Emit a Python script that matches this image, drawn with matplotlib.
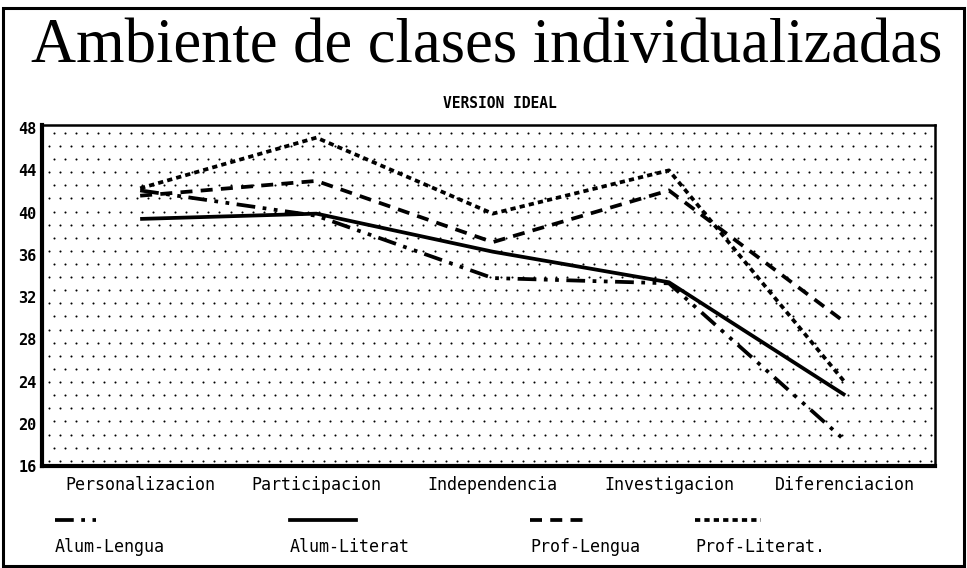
import numpy as np
import matplotlib
matplotlib.use("Agg")
import matplotlib.pyplot as plt
from matplotlib.lines import Line2D
from matplotlib.patches import Rectangle

# datos
categorias = ["Personalizacion", "Participacion", "Independencia", "Investigacion", "Diferenciacion"]
alum_lengua = [42.1, 39.7, 33.8, 33.3, 18.4]
alum_literat = [39.4, 39.9, 36.3, 33.4, 22.7]
prof_lengua = [41.6, 43.0, 37.2, 42.1, 29.6]
prof_literat = [42.3, 47.1, 39.9, 44.0, 23.9]
series = ["Alum-Lengua", "Alum-Literat", "Prof-Lengua", "Prof-Literat."]
yticks = [16, 20, 24, 28, 32, 36, 40, 44, 48]

mono = "DejaVu Sans Mono"
estilos = [
    dict(dashes=(5, 2, 1, 2, 1, 2)),
    dict(linestyle="-"),
    dict(dashes=(3.2, 2.2)),
    dict(dashes=(1.4, 1.1)),
]

fig = plt.figure(figsize=(9.67, 5.68), dpi=100)
ax = fig.add_axes([0.0434, 0.1796, 0.9236, 0.6004])

# fondo punteado
ncol, nfil = 81, 26
px, py = [], []
for j in range(nfil):
    off = 0.5 if j % 2 else 0.0
    for i in range(ncol):
        px.append((i + 0.6 + off) / ncol)
        py.append((j + 0.4) / nfil)
ax.scatter(px, py, s=2.2, c="black", transform=ax.transAxes, zorder=1, linewidths=0)

x = np.arange(len(categorias))
datos = [alum_lengua, alum_literat, prof_lengua, prof_literat]
for d, st in zip(datos, estilos):
    ax.plot(x, d, color="black", lw=2.7, zorder=3, solid_capstyle="butt",
            dash_capstyle="butt", **st)

ax.set_xlim(-0.557, 4.51)
ax.set_ylim(16, 48.3)
ax.set_yticks(yticks)
ax.set_yticklabels([str(v) for v in yticks], fontfamily=mono, fontweight="bold", fontsize=11)
ax.set_xticks(x)
ax.set_xticklabels(categorias, fontfamily=mono, fontsize=12)
ax.tick_params(length=0, axis="y", pad=4)
ax.tick_params(length=0, axis="x", pad=7)

ax.spines["left"].set_linewidth(3)
ax.spines["bottom"].set_linewidth(3)
ax.spines["top"].set_linewidth(1.8)
ax.spines["right"].set_linewidth(1.8)

fig.text(0.503, 0.918, "Ambiente de clases individualizadas", ha="center", va="center",
         fontfamily="Liberation Serif", fontsize=45)
fig.text(0.517, 0.818, "VERSION IDEAL", ha="center", va="center",
         fontfamily=mono, fontweight="bold", fontsize=10.5)

# leyenda abajo
leg_x = [0.057, 0.300, 0.548, 0.719]
leg_w = [0.042, 0.068, 0.057, 0.068]
for xs, w, st, nombre in zip(leg_x, leg_w, estilos, series):
    fig.add_artist(Line2D([xs, xs + w], [0.085, 0.085], color="black", lw=2.7,
                          transform=fig.transFigure, dash_capstyle="butt", **st))
    fig.text(xs, 0.037, nombre, ha="left", va="center", fontfamily=mono, fontsize=12)

fig.add_artist(Rectangle((0.003, 0.004), 0.994, 0.982, fill=False, lw=2.2,
                         edgecolor="black", transform=fig.transFigure))

fig.savefig("out.png", dpi=100)
